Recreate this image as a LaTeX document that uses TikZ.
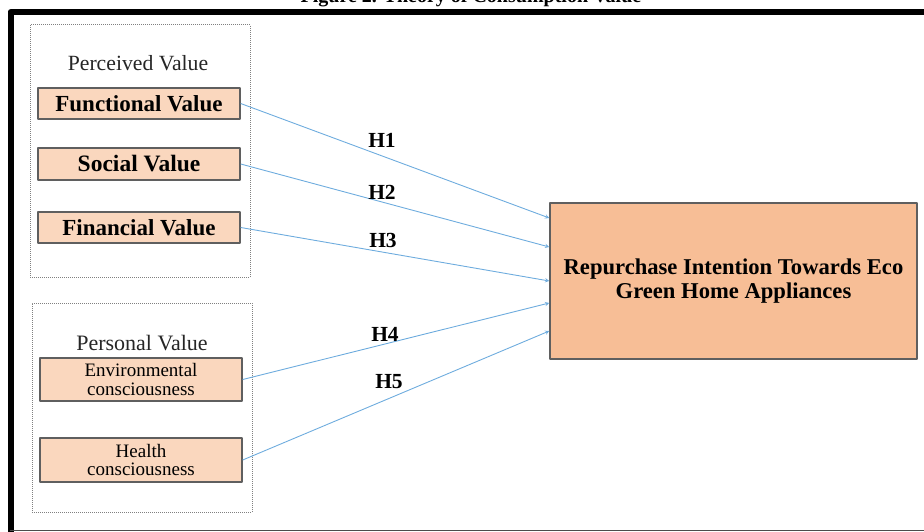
\documentclass[tikz,border=0pt]{standalone}
\usepackage{fontspec}
\setmainfont{Liberation Serif}
\definecolor{peach}{RGB}{250,215,190}
\definecolor{apricot}{RGB}{247,190,150}
\definecolor{linkblue}{RGB}{110,172,222}
\definecolor{edgegray}{RGB}{95,95,95}
\begin{document}
\begin{tikzpicture}[x=1pt,y=-1pt,>=stealth,line join=round,
	grp/.style={draw=gray,densely dotted,line width=1pt,minimum width=220pt,minimum height=#1},
	val/.style={draw=edgegray,fill=peach,line width=1.4pt,minimum width=202pt,minimum height=#1,inner sep=1pt,align=center},
	link/.style={->,draw=linkblue,line width=0.9pt},
	hlab/.style={font=\bfseries\fontsize{21.5}{21.5}\selectfont}]
	\useasboundingbox (0,0) rectangle (924,532);
	% frame
	\draw[line width=6pt] (924,12)--(10.5,12)--(10.5,532);
	\draw[line width=1.5pt,black!70] (10,530.5)--(924,530.5);
	\node[anchor=base,font=\bfseries\fontsize{20}{20}\selectfont] (cap) at (471,3) {Figure 2. Theory of Consumption Value};
	% groups
	\node[grp=252pt] (perc) at (140,151) {};
	\node[grp=209pt] (pers) at (142,407.5) {};
	\node[font=\fontsize{21.7}{21.7}\selectfont,text=black!85] (tperc) at (138,63) {Perceived Value};
	\node[font=\fontsize{22}{22}\selectfont,text=black!85] (tpers) at (142,343) {Personal Value};
	% values
	\node[val=31pt,font=\bfseries\fontsize{23}{23}\selectfont] (fun) at (139,103.5) {Functional Value};
	\node[val=32pt,font=\bfseries\fontsize{23.5}{23.5}\selectfont] (soc) at (139,164) {Social Value};
	\node[val=31pt,font=\bfseries\fontsize{23}{23}\selectfont] (fin) at (139,227.5) {Financial Value};
	\node[val=43pt,font=\fontsize{19}{18.5}\selectfont] (env) at (141,379.5) {Environmental\\consciousness};
	\node[val=44pt,font=\fontsize{19}{18.5}\selectfont] (hea) at (141,460) {Health\\consciousness};
	\node[draw=edgegray,fill=apricot,line width=1.4pt,minimum width=367pt,minimum height=156pt,align=center,
		font=\bfseries\fontsize{22.6}{24}\selectfont] (rep) at (733.5,281) {Repurchase Intention Towards Eco\\Green Home Appliances};
	% hypotheses
	\foreach \s/\d in {fun/63pt,soc/34pt,fin/0pt,env/-22pt,hea/-50pt}
	\draw[link] (\s.east)--([yshift=\d]rep.west);
	\foreach \n/\x/\y in {1/382/140,2/382/192,3/383/240,4/385/334,5/389/382}
	\node[hlab] (h\n) at (\x,\y) {H\n};
\end{tikzpicture}
\end{document}
